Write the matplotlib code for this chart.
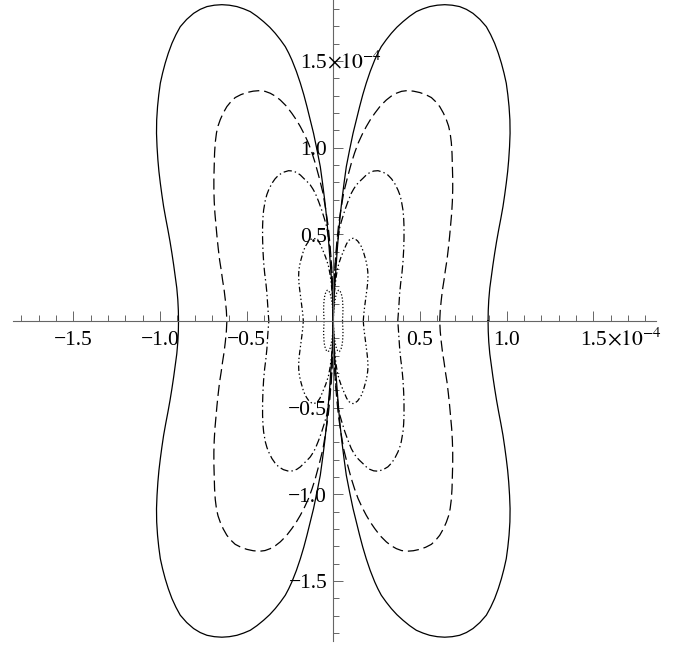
import matplotlib
matplotlib.use("Agg")
import matplotlib.pyplot as plt
import numpy as np
from matplotlib.ticker import FixedLocator

plt.rcParams['font.family'] = ['Liberation Serif', 'DejaVu Serif']
plt.rcParams['mathtext.fontset'] = 'stix'
plt.rcParams['lines.scale_dashes'] = False

# upper-right quadrant of each curve (units of 1e-4), from x-axis crossing to origin
solid_x = [0.893, 0.894, 0.897, 0.903, 0.912, 0.921, 0.931, 0.942, 0.954, 0.967, 0.979,
           0.989, 0.998, 1.006, 1.012, 1.017, 1.020, 1.019, 1.014, 1.007, 0.998, 0.985,
           0.970, 0.952, 0.931, 0.908, 0.883, 0.846, 0.806, 0.768, 0.729, 0.686, 0.643,
           0.600, 0.556, 0.517, 0.479, 0.440, 0.402, 0.367, 0.335, 0.305, 0.277, 0.257,
           0.239, 0.213, 0.190, 0.170, 0.152, 0.133, 0.114, 0.094, 0.075, 0.062, 0.050,
           0.039, 0.030, 0.022, 0.015, 0.009, 0.005, 0.002, 0.0]
solid_y = [0.000, 0.060, 0.121, 0.190, 0.256, 0.323, 0.390, 0.458, 0.525, 0.593, 0.660,
           0.728, 0.795, 0.862, 0.929, 1.006, 1.083, 1.160, 1.237, 1.305, 1.372, 1.430,
           1.487, 1.545, 1.602, 1.652, 1.698, 1.740, 1.775, 1.798, 1.814, 1.822, 1.825,
           1.822, 1.814, 1.801, 1.785, 1.758, 1.727, 1.695, 1.660, 1.622, 1.583, 1.545,
           1.506, 1.440, 1.372, 1.305, 1.237, 1.160, 1.083, 0.987, 0.890, 0.795, 0.700,
           0.600, 0.500, 0.400, 0.300, 0.220, 0.150, 0.075, 0.0]

dashed_x = [0.614, 0.617, 0.623, 0.630, 0.639, 0.647, 0.656, 0.664, 0.671, 0.677, 0.683,
            0.687, 0.689, 0.689, 0.687, 0.685, 0.681, 0.674, 0.665, 0.652, 0.635, 0.614,
            0.591, 0.566, 0.533, 0.499, 0.462, 0.425, 0.394, 0.364, 0.334, 0.306, 0.271,
            0.239, 0.213, 0.190, 0.166, 0.143, 0.123, 0.104, 0.081, 0.060, 0.044, 0.030,
            0.020, 0.012, 0.007, 0.004, 0.001, 0.0]
dashed_y = [0.000, 0.060, 0.121, 0.180, 0.237, 0.295, 0.352, 0.420, 0.487, 0.554, 0.621,
            0.690, 0.756, 0.823, 0.890, 0.968, 1.030, 1.085, 1.125, 1.162, 1.200, 1.237,
            1.265, 1.289, 1.306, 1.318, 1.326, 1.329, 1.325, 1.314, 1.297, 1.275, 1.240,
            1.198, 1.160, 1.121, 1.075, 1.025, 0.970, 0.910, 0.825, 0.740, 0.645, 0.550,
            0.450, 0.350, 0.265, 0.180, 0.090, 0.0]

dashdot_x = [0.372, 0.375, 0.378, 0.383, 0.389, 0.396, 0.402, 0.406, 0.408, 0.408, 0.406,
             0.402, 0.392, 0.383, 0.373, 0.354, 0.336, 0.315, 0.288, 0.258, 0.233, 0.210,
             0.190, 0.171, 0.152, 0.133, 0.118, 0.104, 0.085, 0.067, 0.052, 0.038, 0.028,
             0.020, 0.013, 0.008, 0.004, 0.001, 0.0]
dashdot_y = [0.000, 0.040, 0.080, 0.160, 0.220, 0.275, 0.340, 0.410, 0.477, 0.544, 0.595,
             0.640, 0.698, 0.730, 0.756, 0.794, 0.820, 0.842, 0.858, 0.867, 0.865, 0.856,
             0.842, 0.823, 0.805, 0.785, 0.762, 0.737, 0.690, 0.640, 0.592, 0.544, 0.480,
             0.420, 0.350, 0.280, 0.190, 0.095, 0.0]

dashdotdot_x = [0.173, 0.176, 0.181, 0.186, 0.190, 0.195, 0.198, 0.200, 0.199, 0.196, 0.191,
                0.185, 0.174, 0.162, 0.150, 0.140, 0.127, 0.114, 0.101, 0.090, 0.077, 0.066,
                0.055, 0.045, 0.035, 0.027, 0.019, 0.012, 0.007, 0.004, 0.001, 0.0]
dashdotdot_y = [0.000, 0.040, 0.083, 0.120, 0.150, 0.190, 0.218, 0.256, 0.285, 0.310, 0.337,
                0.360, 0.398, 0.429, 0.448, 0.462, 0.472, 0.477, 0.473, 0.465, 0.446, 0.420,
                0.395, 0.370, 0.340, 0.313, 0.270, 0.220, 0.170, 0.120, 0.060, 0.0]

dotted_x = [0.053, 0.054, 0.055, 0.056, 0.055, 0.054, 0.052, 0.049, 0.045, 0.040, 0.035,
            0.030, 0.025, 0.020, 0.016, 0.012, 0.008, 0.005, 0.003, 0.001, 0.0]
dotted_y = [0.000, 0.020, 0.040, 0.065, 0.090, 0.110, 0.130, 0.146, 0.160, 0.170, 0.177,
            0.177, 0.172, 0.162, 0.150, 0.130, 0.110, 0.085, 0.060, 0.030, 0.0]

major_ticks = [-1.5, -1.0, -0.5, 0.5, 1.0, 1.5]
minor_ticks = [v / 10 for v in range(-18, 19) if v % 5 != 0]
tick_labels = ['\u22121.5', '\u22121.0', '\u22120.5', '0.5', '1.0', '1.5']
exp_label = r'$\times10^{-4}$'


def full_curve(qx, qy):
    qx = np.asarray(qx)
    qy = np.asarray(qy)
    x = np.concatenate([qx, -qx[::-1], -qx, qx[::-1]])
    y = np.concatenate([qy, qy[::-1], -qy, -qy[::-1]])
    return x, y


fig = plt.figure(figsize=(6.86, 6.45), dpi=100)
ax = fig.add_axes([0, 0, 1, 1])

styles = [
    (solid_x, solid_y, dict(linestyle='-')),
    (dashed_x, dashed_y, dict(dashes=(8, 3.5))),
    (dashdot_x, dashdot_y, dict(dashes=(6, 2.2, 1, 2.2))),
    (dashdotdot_x, dashdotdot_y, dict(dashes=(4, 1.8, 1, 1.8, 1, 1.8))),
    (dotted_x, dotted_y, dict(dashes=(0.9, 1.4))),
]
for qx, qy, st in styles:
    x, y = full_curve(qx, qy)
    ax.plot(x, y, color='black', linewidth=0.9, solid_joinstyle='round', **st)

ax.set_xlim(-1.923, 2.035)
ax.set_ylim(-1.870, 1.852)

for s in ['top', 'right']:
    ax.spines[s].set_visible(False)
ax.spines['left'].set_position(('data', 0))
ax.spines['bottom'].set_position(('data', 0))
ax.spines['bottom'].set_bounds(-1.85, 1.86)
ax.spines['left'].set_bounds(-1.845, 1.852)
for s in ['left', 'bottom']:
    ax.spines[s].set_color('#666666')
    ax.spines[s].set_linewidth(0.8)

for axis in [ax.xaxis, ax.yaxis]:
    axis.set_major_locator(FixedLocator(major_ticks))
    axis.set_minor_locator(FixedLocator(minor_ticks))
ax.tick_params(which='major', direction='in', length=7, width=0.7, color='#666666',
               labelbottom=False, labelleft=False)
ax.tick_params(which='minor', direction='in', length=4.3, width=0.7, color='#666666')

fs = 15.5
for v, lab in zip(major_ticks, tick_labels):
    ax.text(v, -0.139, lab, ha='center', va='baseline', fontsize=fs)
    ax.text(-0.035, v - 0.043, lab, ha='right', va='baseline', fontsize=fs)
ax.text(1.5 + 0.077, -0.139, exp_label, ha='left', va='baseline', fontsize=fs)
ax.text(-0.035, 1.5 - 0.043, exp_label, ha='left', va='baseline', fontsize=fs)

fig.savefig('out.png', dpi=100)
